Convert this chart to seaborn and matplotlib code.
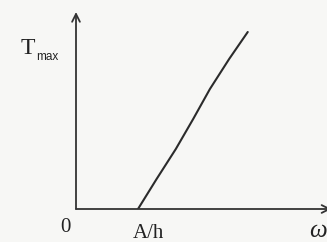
import matplotlib
matplotlib.use("Agg")
import matplotlib.pyplot as plt
import seaborn as sns
import pandas as pd

# data (omega in units where A/h = 1)
omega = [1.00, 1.30, 1.61, 1.89, 2.16, 2.47, 2.77]
t_max = [0.00, 0.30, 0.60, 0.90, 1.20, 1.50, 1.77]
x_tick_labels = ["0", "A/h"]
y_label = "T"
y_sub = "max"
x_label = "\u03c9"

sns.set_style("white")
plt.rcParams["font.family"] = ["Liberation Serif", "DejaVu Serif"]

W, H = 327, 242
fig = plt.figure(figsize=(W / 100, H / 100), dpi=100, facecolor="#f7f7f5")
ox, oy = 76, 209  # origin in pixels (from top)
ax = fig.add_axes([ox / W, (H - oy) / H, (W - ox) / W, oy / H])
ax.set_facecolor("none")
ax.set_xlim(0, (W - ox) / 62)
ax.set_ylim(0, oy / 100)
for s in ax.spines.values():
    s.set_visible(False)
ax.set_xticks([])
ax.set_yticks([])

df = pd.DataFrame({"omega": omega, "T": t_max})
sns.lineplot(data=df, x="omega", y="T", ax=ax, color="#2b2b2b", lw=1.5)
ax.set_xlabel("")
ax.set_ylabel("")

lc = "#333333"
ax.annotate("", xy=(0, 1.97), xytext=(0, 0), annotation_clip=False,
            arrowprops=dict(arrowstyle="->", color=lc, lw=1.3,
                            mutation_scale=14, shrinkA=0, shrinkB=0))
ax.annotate("", xy=(4.12, 0), xytext=(0, 0), annotation_clip=False,
            arrowprops=dict(arrowstyle="->", color=lc, lw=1.3,
                            mutation_scale=14, shrinkA=0, shrinkB=0))

# labels in figure pixel coordinates
def ft(x, y, s, **kw):
    fig.text(x / W, 1 - y / H, s, **kw)

ft(21, 49, y_label, fontsize=17, color="#222", va="center", ha="left")
ft(36, 57, y_sub, fontsize=8.5, color="#222", va="center", ha="left",
   family=["Liberation Sans", "DejaVu Sans"])
ft(65, 228, x_tick_labels[0], fontsize=15, color="#222", va="center", ha="center")
ft(148, 233, x_tick_labels[1], fontsize=15, color="#222", va="center", ha="center")
ft(318, 231, x_label, fontsize=18, color="#222", va="center", ha="center",
   style="italic")

fig.savefig("out.png", dpi=100, facecolor=fig.get_facecolor())
